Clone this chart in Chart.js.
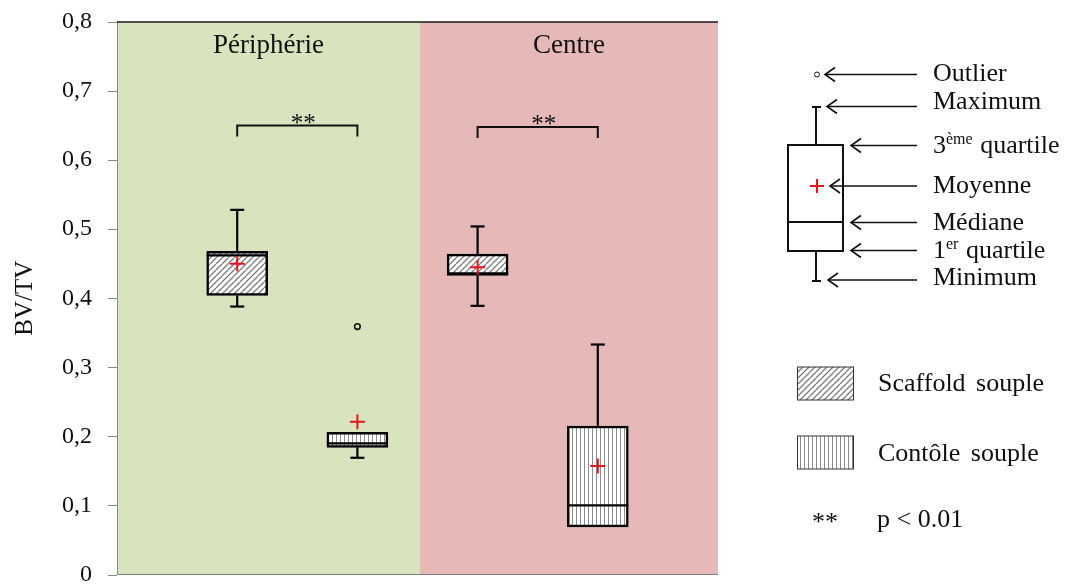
<!DOCTYPE html>
<html><head><meta charset="utf-8">
<script src="https://cdn.jsdelivr.net/npm/chart.js@4.4.1/dist/chart.umd.min.js"></script>
<style>html,body{margin:0;padding:0;background:#fff;}canvas{display:block}</style>
</head><body>
<canvas id="c" width="1068" height="584"></canvas>
<script>
// ---------- data ----------
const regions = ['Périphérie', 'Centre'];
const seriesNames = ['Scaffold souple', 'Contôle souple'];
const significance = ['**', '**'];
const significanceLevel = [0.65, 0.648];
const yTickLabels = ['0', '0,1', '0,2', '0,3', '0,4', '0,5', '0,6', '0,7', '0,8'];
const axisTitle = 'BV/TV';
const keyLabels = ['Outlier', 'Maximum', '3ème quartile', 'Moyenne', 'Médiane', '1er quartile', 'Minimum'];
const pLabel = 'p < 0.01';

const scaffoldMin    = [0.388, 0.389];
const scaffoldQ1     = [0.404, 0.433];
const scaffoldMedian = [0.462, 0.436];
const scaffoldQ3     = [0.468, 0.464];
const scaffoldMax    = [0.528, 0.504];
const scaffoldMean   = [0.450, 0.445];
const scaffoldOutliers = [[], []];

const controlMin    = [0.169, 0.069];
const controlQ1     = [0.184, 0.069];
const controlMedian = [0.190, 0.100];
const controlQ3     = [0.206, 0.215];
const controlMax    = [0.206, 0.333];
const controlMean   = [0.221, 0.157];
const controlOutliers = [[0.359], []];

// ---------- layout helpers ----------
const SERIF = '"Liberation Serif", "Times New Roman", serif';
const TXT = '#111';
function xPos(region, series) { return 0.2 + 0.4 * region + 0.2 * series; }
const regionSplit = 0.504;

const canvas = document.getElementById('c');
const ctx0 = canvas.getContext('2d');
function makePattern(kind) {
  const c = document.createElement('canvas');
  const s = kind === 'diag' ? 6 : 4;
  c.width = s; c.height = s;
  const g = c.getContext('2d');
  g.fillStyle = '#fff'; g.fillRect(0, 0, s, s);
  if (kind === 'diag') {
    g.strokeStyle = '#7a7a7a'; g.lineWidth = 1.3;
    g.beginPath();
    for (let k = -1; k <= 1; k++) { g.moveTo(k * s, s); g.lineTo(k * s + s, 0); }
    g.stroke();
  } else {
    g.fillStyle = '#8c8c8c'; g.fillRect(0, 0, 1, s);
  }
  return ctx0.createPattern(c, 'repeat');
}
const diagPattern = makePattern('diag');
const vertPattern = makePattern('vert');

function statsFor(min, q1, med, q3, max) {
  return regions.map((r, i) => ({ min: min[i], q1: q1[i], median: med[i], q3: q3[i], max: max[i] }));
}

const datasets = [
  {
    type: 'bar', label: seriesNames[0],
    data: regions.map((r, i) => ({ x: xPos(i, 0), y: [scaffoldQ1[i], scaffoldQ3[i]] })),
    stats: statsFor(scaffoldMin, scaffoldQ1, scaffoldMedian, scaffoldQ3, scaffoldMax),
    backgroundColor: diagPattern, borderColor: '#000', borderWidth: 2.5, borderSkipped: false,
    barThickness: 61, grouped: false, order: 3
  },
  {
    type: 'bar', label: seriesNames[1],
    data: regions.map((r, i) => ({ x: xPos(i, 1), y: [controlQ1[i], controlQ3[i]] })),
    stats: statsFor(controlMin, controlQ1, controlMedian, controlQ3, controlMax),
    backgroundColor: vertPattern, borderColor: '#000', borderWidth: 2.5, borderSkipped: false,
    barThickness: 61, grouped: false, order: 3
  },
  {
    type: 'scatter', label: 'Moyenne',
    data: regions.flatMap((r, i) => [{ x: xPos(i, 0), y: scaffoldMean[i] }, { x: xPos(i, 1), y: controlMean[i] }]),
    pointStyle: 'cross', pointRadius: 7.5, borderColor: '#e8141c', borderWidth: 2, order: 0
  },
  {
    type: 'scatter', label: 'Outlier',
    data: regions.flatMap((r, i) => [
      ...scaffoldOutliers[i].map(v => ({ x: xPos(i, 0), y: v })),
      ...controlOutliers[i].map(v => ({ x: xPos(i, 1), y: v }))]),
    pointStyle: 'circle', pointRadius: 2.8, borderColor: '#111', backgroundColor: 'rgba(0,0,0,0)', borderWidth: 1.6, order: 1
  }
];

function line(ctx, x1, y1, x2, y2) { ctx.beginPath(); ctx.moveTo(x1, y1); ctx.lineTo(x2, y2); ctx.stroke(); }

const backgroundPlugin = {
  id: 'regionsBg',
  beforeDraw(chart) {
    const { ctx, chartArea: ca } = chart;
    const split = chart.scales.x.getPixelForValue(regionSplit);
    ctx.save();
    ctx.fillStyle = '#d7e4bd'; ctx.fillRect(ca.left, ca.top, split - ca.left, ca.bottom - ca.top);
    ctx.fillStyle = '#e6b9b8'; ctx.fillRect(split, ca.top, ca.right - split, ca.bottom - ca.top);
    ctx.restore();
  },
  beforeDatasetsDraw(chart) {
    const { ctx, chartArea: ca } = chart;
    const xs = chart.scales.x, ys = chart.scales.y;
    ctx.save();
    // short outside tick marks on the value axis
    ctx.strokeStyle = '#8a8a8a'; ctx.lineWidth = 1;
    ys.ticks.forEach(t => {
      const py = Math.round(ys.getPixelForValue(t.value)) + 0.5;
      line(ctx, ca.left - 9, py, ca.left, py);
    });
    ctx.strokeStyle = '#1a1a1a'; ctx.lineWidth = 1.5;
    line(ctx, ca.left, ca.top, ca.right, ca.top);
    ctx.strokeStyle = '#808080'; ctx.lineWidth = 1;
    line(ctx, ca.left, ca.bottom, ca.right, ca.bottom);
    ctx.fillStyle = TXT; ctx.font = '27px ' + SERIF; ctx.textAlign = 'center'; ctx.textBaseline = 'alphabetic';
    const bounds = [0, regionSplit, 1];
    regions.forEach((r, i) => {
      const cx = (xs.getPixelForValue(bounds[i]) + xs.getPixelForValue(bounds[i + 1])) / 2;
      ctx.fillText(r, cx, ca.top + 31);
    });
    ctx.restore();
  }
};

const boxPlugin = {
  id: 'boxExtras',
  afterDatasetDraw(chart, args) {
    const ds = chart.data.datasets[args.index];
    if (!ds.stats) return;
    const ctx = chart.ctx, ys = chart.scales.y;
    ctx.save();
    ctx.strokeStyle = '#000'; ctx.lineWidth = 2.2; ctx.lineCap = 'butt';
    args.meta.data.forEach((bar, i) => {
      const st = ds.stats[i];
      const cx = bar.x, hw = bar.width / 2;
      const py = v => ys.getPixelForValue(v);
      line(ctx, cx - hw, py(st.median), cx + hw, py(st.median));
      if (st.max > st.q3) {
        line(ctx, cx, py(st.q3), cx, py(st.max));
        line(ctx, cx - 7, py(st.max), cx + 7, py(st.max));
      }
      if (st.min < st.q1) {
        line(ctx, cx, py(st.q1), cx, py(st.min));
        line(ctx, cx - 7, py(st.min), cx + 7, py(st.min));
      }
    });
    ctx.restore();
  },
  afterDatasetsDraw(chart) {
    const ctx = chart.ctx, xs = chart.scales.x, ys = chart.scales.y;
    ctx.save();
    ctx.strokeStyle = '#111'; ctx.lineWidth = 2;
    regions.forEach((r, i) => {
      const x1 = xs.getPixelForValue(xPos(i, 0)), x2 = xs.getPixelForValue(xPos(i, 1));
      const y = ys.getPixelForValue(significanceLevel[i]);
      ctx.beginPath();
      ctx.moveTo(x1, y + 11); ctx.lineTo(x1, y); ctx.lineTo(x2, y); ctx.lineTo(x2, y + 11);
      ctx.stroke();
      ctx.fillStyle = TXT; ctx.font = '25px ' + SERIF; ctx.textAlign = 'center'; ctx.textBaseline = 'alphabetic';
      ctx.fillText(significance[i], (x1 + x2) / 2 + 6, y + 5);
    });
    ctx.restore();
  }
};

function supText(ctx, x, y, base, sup, rest) {
  ctx.font = '26px ' + SERIF; ctx.textAlign = 'left';
  ctx.fillText(base, x, y);
  let w = ctx.measureText(base).width;
  ctx.font = '16px ' + SERIF;
  ctx.fillText(sup, x + w, y - 9);
  w += ctx.measureText(sup).width;
  ctx.font = '26px ' + SERIF;
  ctx.fillText(rest, x + w + 1, y);
}

const keyPlugin = {
  id: 'boxKey',
  afterDraw(chart) {
    const ctx = chart.ctx;
    ctx.save();
    ctx.strokeStyle = '#111'; ctx.fillStyle = TXT; ctx.lineWidth = 2;
    // diagram
    ctx.strokeRect(788, 145, 55, 106);
    line(ctx, 788, 222, 843, 222);
    line(ctx, 816, 145, 816, 107); line(ctx, 812, 107, 821, 107);
    line(ctx, 816, 251, 816, 281); line(ctx, 812, 281, 821, 281);
    ctx.lineWidth = 1;
    ctx.beginPath(); ctx.arc(817, 74.5, 2.5, 0, Math.PI * 2); ctx.stroke();
    ctx.strokeStyle = '#e8141c'; ctx.lineWidth = 2;
    line(ctx, 810, 186, 824, 186); line(ctx, 817, 179, 817, 193);
    // arrows
    const arrows = [[825, 74.5], [827, 106.5], [851, 145.5], [830, 186], [851, 222.5], [851, 250.5], [828, 280]];
    ctx.strokeStyle = '#111'; ctx.lineWidth = 1.6;
    arrows.forEach(([tx, ay]) => {
      line(ctx, tx, ay, 917, ay);
      ctx.beginPath(); ctx.moveTo(tx + 10, ay - 7); ctx.lineTo(tx, ay); ctx.lineTo(tx + 10, ay + 7); ctx.stroke();
    });
    // labels
    ctx.textBaseline = 'alphabetic'; ctx.textAlign = 'left';
    const baselines = [81, 109, 153, 193, 230, 258, 285];
    keyLabels.forEach((t, i) => {
      const y = baselines[i];
      if (t.startsWith('3ème')) supText(ctx, 933, y, '3', 'ème', ' quartile');
      else if (t.startsWith('1er')) supText(ctx, 933, y, '1', 'er', ' quartile');
      else { ctx.font = '26px ' + SERIF; ctx.fillText(t, 933, y); }
    });
    // series swatches
    ctx.lineWidth = 1; ctx.strokeStyle = '#333';
    ctx.fillStyle = diagPattern; ctx.fillRect(797.5, 367, 56, 33); ctx.strokeRect(797.5, 367, 56, 33);
    ctx.fillStyle = vertPattern; ctx.fillRect(797.5, 436, 56, 33); ctx.strokeRect(797.5, 436, 56, 33);
    ctx.fillStyle = TXT; ctx.font = '26px ' + SERIF;
    ctx.wordSpacing = '4px';
    ctx.fillText(seriesNames[0], 878, 391);
    ctx.fillText(seriesNames[1], 878, 461);
    ctx.wordSpacing = '0px';
    ctx.font = '26px ' + SERIF; ctx.textAlign = 'center';
    ctx.fillText(significance[0], 825, 530);
    ctx.textAlign = 'left'; ctx.font = '26px ' + SERIF;
    ctx.fillText(pLabel, 877, 527);
    ctx.restore();
  }
};

new Chart(canvas, {
  type: 'scatter',
  data: { datasets },
  options: {
    responsive: false, animation: false, devicePixelRatio: 1,
    layout: { padding: { left: 0, top: 22, right: 350, bottom: 8.5 } },
    plugins: { legend: { display: false }, tooltip: { enabled: false } },
    scales: {
      x: { type: 'linear', min: 0, max: 1, display: false, offset: false },
      y: {
        min: 0, max: 0.8,
        ticks: {
          stepSize: 0.1, padding: 0, color: TXT,
          font: { family: SERIF, size: 24, lineHeight: 0.7 },
          callback: (v) => yTickLabels[Math.round(v * 10)]
        },
        grid: { drawOnChartArea: false, drawTicks: true, tickLength: 25, tickColor: 'rgba(0,0,0,0)', color: 'rgba(0,0,0,0)' },
        border: { display: true, color: '#8a8a8a', width: 1 },
        title: { display: true, text: axisTitle, color: TXT, font: { family: SERIF, size: 25 }, padding: { top: 10, bottom: 0 } },
        afterFit: (s) => { s.width = 117; }
      }
    }
  },
  plugins: [backgroundPlugin, boxPlugin, keyPlugin]
});
</script>
</body></html>
